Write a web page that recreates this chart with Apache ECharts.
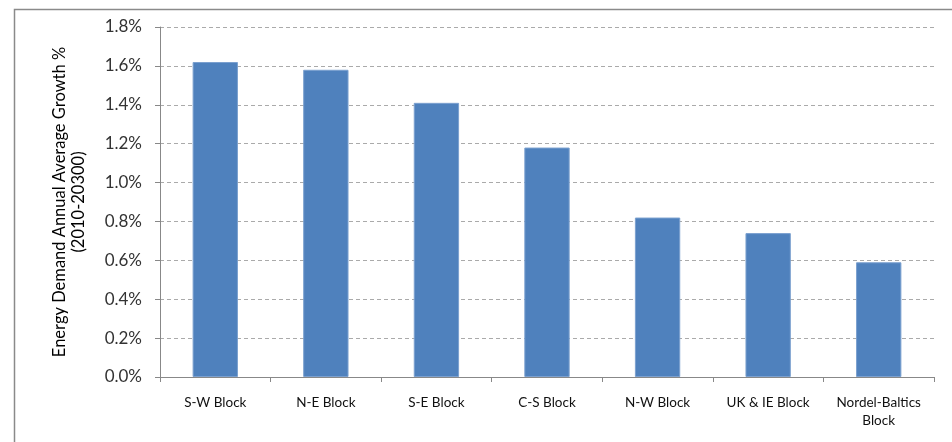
<!DOCTYPE html>
<html>
<head>
<meta charset="utf-8">
<script src="https://cdn.jsdelivr.net/npm/echarts@6/dist/echarts.min.js"></script>
<style>html,body{margin:0;padding:0;background:#fff}#c{width:952px;height:442px}</style>
</head>
<body>
<div id="c"></div>
<script>
const categories = ['S-W Block', 'N-E Block', 'S-E Block', 'C-S Block', 'N-W Block', 'UK & IE Block', 'Nordel-Baltics\nBlock'];
const growth = [1.62, 1.58, 1.41, 1.18, 0.82, 0.74, 0.59];
const yTicks = { min: 0, max: 1.8, interval: 0.2 };
const yName = 'Energy Demand Annual Average Growth %\n(2010-20300)';

const chart = echarts.init(document.getElementById('c'), null, { renderer: 'canvas' });
const font = 'Lato, "Open Sans", sans-serif';
chart.setOption({
  animation: false,
  backgroundColor: '#fff',
  graphic: [{
    type: 'rect', left: 12, top: 7, shape: { x: 0, y: 0, width: 960, height: 460 },
    style: { fill: 'none', stroke: '#8a8a8a', lineWidth: 1.5 }, silent: true
  }],
  grid: { left: 160, right: 18, top: 27, bottom: 65 },
  xAxis: {
    type: 'category', data: categories,
    axisLine: { lineStyle: { color: '#888', width: 1 } },
    axisTick: { show: true, length: 5, alignWithLabel: false, lineStyle: { color: '#888' } },
    axisLabel: { color: '#111', fontFamily: font, fontSize: 13.5, margin: 17, lineHeight: 18, interval: 0 }
  },
  yAxis: {
    type: 'value', min: yTicks.min, max: yTicks.max, interval: yTicks.interval,
    name: yName, nameLocation: 'middle', nameGap: 72,
    nameTextStyle: { color: '#000', fontFamily: font, fontSize: 16.5, lineHeight: 19 },
    axisLine: { show: true, lineStyle: { color: '#888', width: 1 } },
    axisTick: { show: true, length: 5, lineStyle: { color: '#888' } },
    axisLabel: { color: '#333', fontFamily: font, fontSize: 17, margin: 18, formatter: v => v.toFixed(1) + '%' },
    splitLine: { show: true, lineStyle: { color: '#aaa', type: [4, 3], width: 1 } }
  },
  series: [{
    type: 'bar', data: growth, barWidth: '41%',
    itemStyle: { color: '#4f81bd', borderColor: '#7ba0cf', borderWidth: 1 }
  }]
});
</script>
</body>
</html>
